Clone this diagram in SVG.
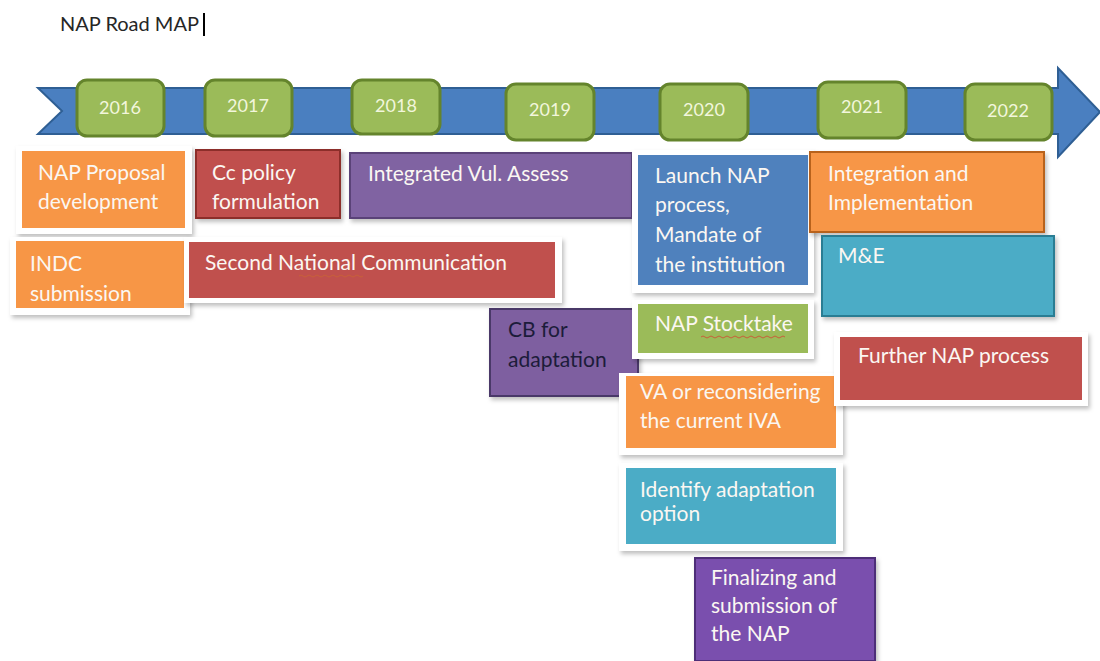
<svg xmlns="http://www.w3.org/2000/svg" width="1100" height="661" viewBox="0 0 1100 661">
<defs>
<filter id="sh" x="-10%" y="-10%" width="125%" height="130%">
<feDropShadow dx="2" dy="3" stdDeviation="2" flood-color="#000" flood-opacity="0.25"/>
</filter>
<style>
.t{font-family:Lato,"Open Sans","Liberation Sans",sans-serif;font-size:21px;fill:#fbf7f2}
.yr{font-family:Lato,"Open Sans","Liberation Sans",sans-serif;font-size:18px;fill:#f2f6dc;text-anchor:middle}
.yb{fill:#9bbb59;stroke:#64842c;stroke-width:3}
.fr{fill:#fff;filter:url(#sh)}
.or{fill:#f79646}
.rd{fill:#c0504d}
.pu{fill:#8064a2}
.bl{fill:#4f81bd}
.gr{fill:#9bbb59}
.tl{fill:#4bacc6}
.sq{fill:none;stroke:#c8603a;stroke-width:1}
</style>
</defs>
<rect width="1100" height="661" fill="#fff"/>
<g id="title">
<text x="60" y="31" font-family="Lato,'Open Sans','Liberation Sans',sans-serif" font-size="20" fill="#262626">NAP Road MAP</text>
<line x1="204" y1="13" x2="204" y2="36" stroke="#000" stroke-width="2"/>
</g>
<g id="timeline">
<path d="M38,88 L1058,88 L1058,68 L1100,112 L1058,157 L1058,134 L38,134 L62,111 Z" fill="#4a7fc0" stroke="#2f5f94" stroke-width="2"/>
</g>
<g id="y2016"><rect class="yb" x="77" y="80" width="87" height="56" rx="10"/><text class="yr" x="120" y="114">2016</text></g>
<g id="y2017"><rect class="yb" x="205" y="80" width="87" height="56" rx="10"/><text class="yr" x="248" y="112">2017</text></g>
<g id="y2018"><rect class="yb" x="352" y="80" width="88" height="54" rx="10"/><text class="yr" x="396" y="112">2018</text></g>
<g id="y2019"><rect class="yb" x="506" y="84" width="88" height="56" rx="10"/><text class="yr" x="550" y="116">2019</text></g>
<g id="y2020"><rect class="yb" x="660" y="84" width="88" height="56" rx="10"/><text class="yr" x="704" y="116">2020</text></g>
<g id="y2021"><rect class="yb" x="818" y="82" width="88" height="56" rx="10"/><text class="yr" x="862" y="113">2021</text></g>
<g id="y2022"><rect class="yb" x="965" y="84" width="87" height="56" rx="10"/><text class="yr" x="1008" y="117">2022</text></g>

<g id="nap-proposal">
<rect class="fr" x="16" y="146" width="176" height="88"/>
<rect class="or" x="22" y="151" width="163" height="77"/>
<text class="t" x="38" y="180">NAP Proposal</text>
<text class="t" x="38" y="209">development</text>
</g>
<g id="cc-policy">
<rect x="196" y="150" width="144" height="68" fill="#c0504d" stroke="#8c2f2c" stroke-width="2" filter="url(#sh)"/>
<text class="t" x="212" y="180">Cc policy</text>
<text class="t" x="212" y="209">formulation</text>
</g>
<g id="integrated-vul">
<rect x="350" y="153" width="282" height="65" fill="#8064a2" stroke="#5a4378" stroke-width="2" filter="url(#sh)"/>
<text class="t" x="368" y="181">Integrated Vul. Assess</text>
</g>
<g id="indc">
<rect class="fr" x="10" y="237" width="180" height="78"/>
<rect class="or" x="16" y="241" width="168" height="67"/>
<text class="t" x="30" y="271">INDC</text>
<text class="t" x="30" y="301">submission</text>
</g>
<g id="second-nc">
<rect class="fr" x="184" y="237" width="378" height="66"/>
<rect class="rd" x="189" y="242" width="366" height="56"/>
<text class="t" x="205" y="270">Second  National Communication</text>
<path class="sq" d="M299,276 q2,-2 4,0 t4,0 t4,0 t4,0 t4,0 t4,0 t4,0 t4,0 t4,0 t4,0 t4,0 t4,0 t4,0 t4,0 t4,0 t4,0"/>
</g>
<g id="cb-adaptation">
<rect x="490" y="309" width="148" height="87" fill="#7e5fa0" stroke="#4a3768" stroke-width="2" filter="url(#sh)"/>
<text class="t" x="508" y="337" style="fill:#1c1c3a">CB for</text>
<text class="t" x="508" y="367" style="fill:#1c1c3a">adaptation</text>
</g>
<g id="launch-nap">
<rect class="fr" x="632" y="150" width="182" height="143"/>
<rect class="bl" x="638" y="155" width="170" height="130"/>
<text class="t" x="655" y="183">Launch NAP</text>
<text class="t" x="655" y="212">process,</text>
<text class="t" x="655" y="242">Mandate of</text>
<text class="t" x="655" y="272">the institution</text>
</g>
<g id="nap-stocktake">
<rect class="fr" x="632" y="300" width="182" height="59"/>
<rect class="gr" x="638" y="304" width="170" height="49"/>
<text class="t" x="655" y="331">NAP Stocktake</text>
<path class="sq" d="M701,337 q2,-2 4,0 t4,0 t4,0 t4,0 t4,0 t4,0 t4,0 t4,0 t4,0 t4,0 t4,0 t4,0 t4,0 t4,0 t4,0 t4,0 t4,0 t4,0 t4,0 t4,0 t4,0"/>
</g>
<g id="va-reconsidering">
<rect class="fr" x="619" y="373" width="224" height="82"/>
<rect class="or" x="626" y="376" width="210" height="72"/>
<text class="t" x="640" y="399">VA or reconsidering</text>
<text class="t" x="640" y="428">the current IVA</text>
</g>
<g id="identify-option">
<rect class="fr" x="619" y="463" width="224" height="88"/>
<rect class="tl" x="626" y="468" width="210" height="76"/>
<text class="t" x="640" y="497">Identify adaptation</text>
<text class="t" x="640" y="521">option</text>
</g>
<g id="finalizing">
<rect x="695" y="558" width="180" height="103" fill="#7a4fae" stroke="#4e2f78" stroke-width="2" filter="url(#sh)"/>
<text class="t" x="711" y="585">Finalizing and</text>
<text class="t" x="711" y="613">submission of</text>
<text class="t" x="711" y="641">the NAP</text>
</g>
<g id="integration">
<rect x="810" y="152" width="234" height="80" fill="#f79646" stroke="#b8621e" stroke-width="2" filter="url(#sh)"/>
<text class="t" x="828" y="181">Integration and</text>
<text class="t" x="828" y="210">Implementation</text>
</g>
<g id="me">
<rect x="822" y="236" width="232" height="80" fill="#4bacc6" stroke="#2a7d93" stroke-width="2" filter="url(#sh)"/>
<text class="t" x="838" y="263">M&amp;E</text>
</g>
<g id="further-nap">
<rect class="fr" x="834" y="332" width="254" height="74"/>
<rect class="rd" x="840" y="337" width="242" height="63"/>
<text class="t" x="858" y="363">Further NAP process</text>
</g>
</svg>
